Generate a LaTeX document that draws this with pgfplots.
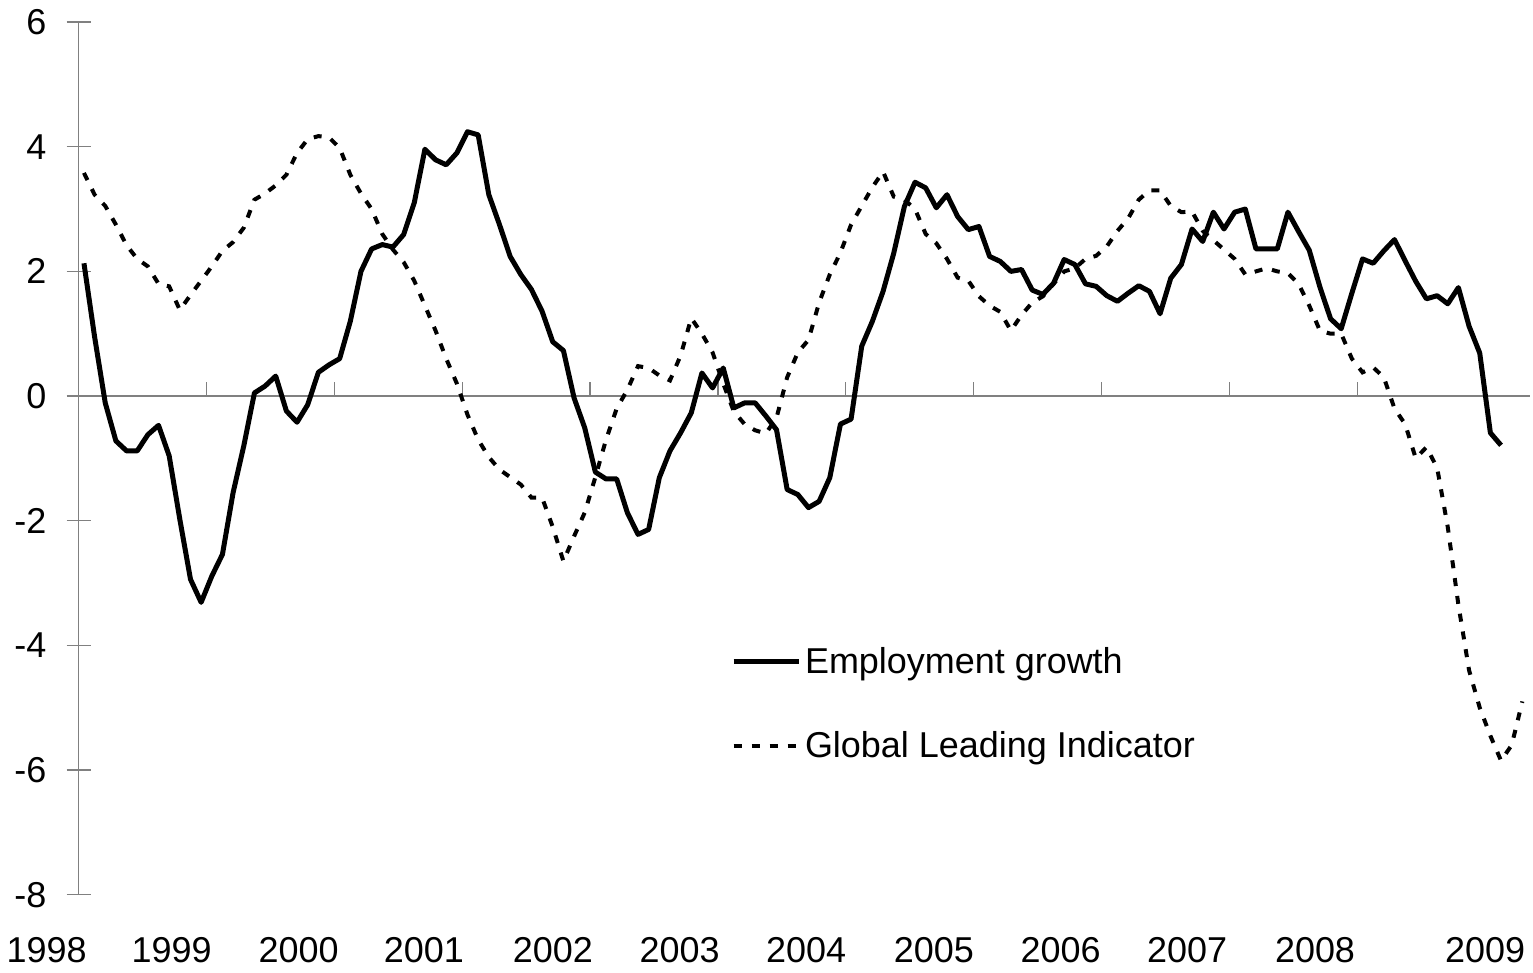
\documentclass[border=0pt]{standalone}
\usepackage{fontspec}
\setmainfont{Liberation Sans}
\usepackage{pgfplots}
\usepackage{pgfplotstable}
\pgfplotsset{compat=1.18}

% m = month index from Jan 1998, emp = employment growth, gli = global leading indicator
\pgfplotstableread{
m emp gli
0 2.13 3.58
1 0.95 3.23
2 -0.11 3.05
3 -0.72 2.75
4 -0.88 2.42
5 -0.88 2.20
6 -0.62 2.08
7 -0.47 1.80
8 -0.96 1.76
9 -1.98 1.38
10 -2.94 1.62
11 -3.31 1.85
12 -2.89 2.08
13 -2.54 2.33
14 -1.55 2.47
15 -0.80 2.70
16 0.05 3.15
17 0.16 3.25
18 0.32 3.38
19 -0.24 3.55
20 -0.42 3.90
21 -0.14 4.12
22 0.38 4.17
23 0.50 4.15
24 0.60 3.98
25 1.20 3.55
26 2.00 3.25
27 2.36 3.00
28 2.43 2.60
29 2.39 2.35
30 2.59 2.15
31 3.10 1.85
32 3.96 1.45
33 3.79 1.05
34 3.71 0.60
35 3.90 0.20
36 4.24 -0.30
37 4.19 -0.70
38 3.23 -0.98
39 2.75 -1.18
40 2.24 -1.30
41 1.95 -1.42
42 1.71 -1.63
43 1.36 -1.63
44 0.87 -2.10
45 0.73 -2.65
46 -0.03 -2.25
47 -0.51 -1.87
48 -1.22 -1.30
49 -1.33 -0.70
50 -1.33 -0.20
51 -1.87 0.10
52 -2.22 0.48
53 -2.14 0.45
54 -1.31 0.33
55 -0.88 0.25
56 -0.59 0.65
57 -0.27 1.25
58 0.37 1.00
59 0.13 0.70
60 0.45 0.20
61 -0.19 -0.25
62 -0.11 -0.45
63 -0.11 -0.55
64 -0.32 -0.60
65 -0.54 -0.35
66 -1.50 0.30
67 -1.58 0.70
68 -1.79 0.90
69 -1.69 1.50
70 -1.31 1.95
71 -0.45 2.30
72 -0.37 2.75
73 0.80 3.05
74 1.20 3.35
75 1.68 3.60
76 2.29 3.20
77 3.04 3.15
78 3.43 3.00
79 3.34 2.60
80 3.02 2.45
81 3.23 2.20
82 2.88 1.90
83 2.67 1.85
84 2.72 1.60
85 2.24 1.45
86 2.16 1.35
87 2.00 1.05
88 2.03 1.30
89 1.70 1.50
90 1.63 1.60
91 1.81 1.80
92 2.19 2.00
93 2.11 2.05
94 1.80 2.20
95 1.76 2.25
96 1.61 2.40
97 1.52 2.65
98 1.65 2.85
99 1.77 3.15
100 1.68 3.30
101 1.32 3.30
102 1.89 3.05
103 2.11 2.95
104 2.68 2.96
105 2.48 2.65
106 2.95 2.50
107 2.68 2.35
108 2.95 2.20
109 3.00 1.95
110 2.36 2.00
111 2.36 2.05
112 2.36 2.00
113 2.95 1.97
114 2.64 1.80
115 2.34 1.45
116 1.75 1.05
117 1.24 1.00
118 1.08 1.00
119 1.65 0.60
120 2.20 0.38
121 2.13 0.46
122 2.33 0.30
123 2.51 -0.20
124 2.17 -0.45
125 1.84 -1.00
126 1.56 -0.82
127 1.61 -1.15
128 1.48 -2.10
129 1.74 -3.35
130 1.12 -4.40
131 0.69 -5.00
132 -0.59 -5.45
133 -0.79 -5.85
134 nan -5.60
135 nan -4.90
}\datatable

\newcommand{\lbl}{\fontsize{18}{21.6}\selectfont}

\begin{document}
\begin{tikzpicture}
\begin{axis}[
    x=64pt, y=31.2pt,
    xmin=1998, xmax=2009.35,
    ymin=-8, ymax=6,
    clip=false,
    axis x line=none,
    axis y line=left,
    axis line style={draw=gray, line width=0.6pt, -},
    xtick=\empty,
    ytick={-8,-6,-4,-2,0,2,4,6},
    yticklabels={-8,-6,-4,-2,0,2,4,6},
    tick align=center,
    major tick length=12pt,
    ytick style={draw=gray, line width=0.6pt},
    yticklabel style={font=\lbl, inner sep=0pt, anchor=east, xshift=-10pt},
    legend cell align=left,
    legend image code/.code={\draw[#1] (0pt,0pt) -- (32.5pt,0pt);},
    legend style={draw=none, fill=none, font=\lbl,
        at={(axis cs:2003.10,-3.96)}, anchor=north west,
        inner xsep=0pt, inner ysep=0pt, row sep=23.5pt},
]
\draw[gray, line width=0.6pt] (axis cs:1998,0) -- (axis cs:2009.35,0);
\pgfplotsinvokeforeach{1999,...,2009}{
  \draw[gray, line width=0.6pt] (axis cs:#1,0) -- ++(0pt,7pt);
}
\addplot[black, line width=2.5pt, line join=round] table[x expr=1998+(\thisrow{m}+0.5)/12, y=emp] {\datatable};
\addlegendentry{Employment growth}
\addplot[black, line width=2pt, dash pattern=on 4pt off 5pt] table[x expr=1998+(\thisrow{m}+0.5)/12, y=gli] {\datatable};
\addlegendentry{Global Leading Indicator}

\node[font=\lbl] at (axis cs:1997.75,-8.886) {1998};
\node[font=\lbl] at (axis cs:1998.727,-8.886) {1999};
\node[font=\lbl] at (axis cs:1999.72,-8.886) {2000};
\node[font=\lbl] at (axis cs:2000.70,-8.886) {2001};
\node[font=\lbl] at (axis cs:2001.71,-8.886) {2002};
\node[font=\lbl] at (axis cs:2002.70,-8.886) {2003};
\node[font=\lbl] at (axis cs:2003.69,-8.886) {2004};
\node[font=\lbl] at (axis cs:2004.69,-8.886) {2005};
\node[font=\lbl] at (axis cs:2005.68,-8.886) {2006};
\node[font=\lbl] at (axis cs:2006.67,-8.886) {2007};
\node[font=\lbl] at (axis cs:2007.67,-8.886) {2008};
\node[font=\lbl] at (axis cs:2009.00,-8.886) {2009};

\path (axis cs:1997.398,-9.255) rectangle (axis cs:2009.375,6.354);
\end{axis}
\end{tikzpicture}
\end{document}
